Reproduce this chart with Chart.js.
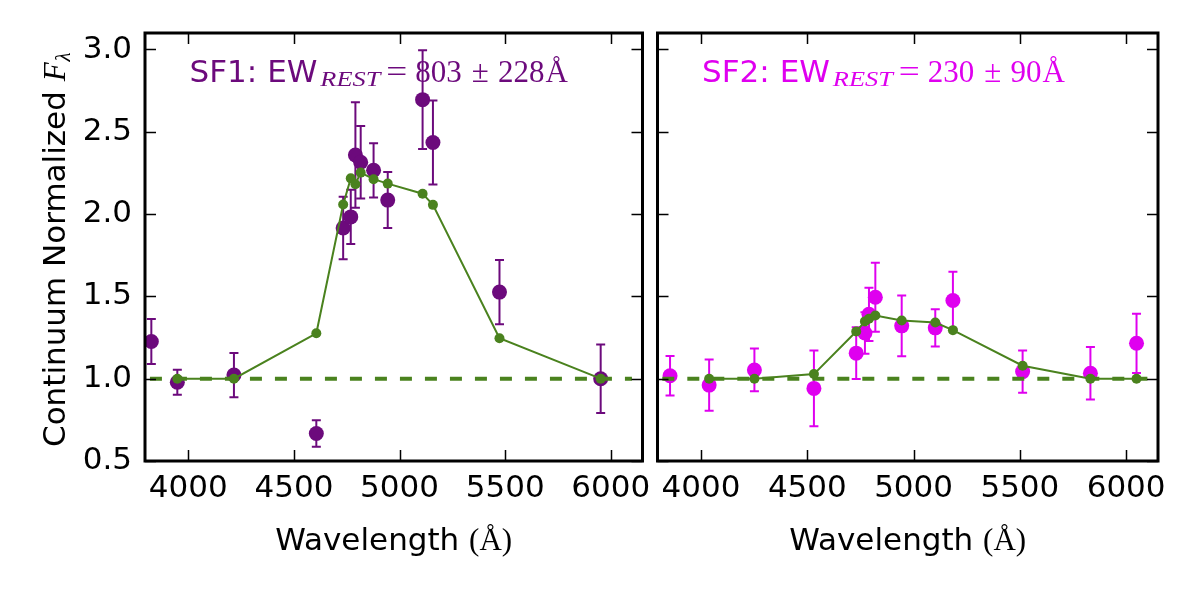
<!DOCTYPE html>
<html>
<head>
<meta charset="utf-8">
<script src="https://cdn.jsdelivr.net/npm/chart.js"></script>
<style>
  body { margin: 0; background: #fff; }
  #wrap { position: relative; width: 1200px; height: 600px; }
  #left { position: absolute; left: 0; top: 0; }
  #right { position: absolute; left: 650px; top: 0; }
</style>
</head>
<body>
<div id="wrap">
  <canvas id="left" width="650" height="600"></canvas>
  <canvas id="right" width="550" height="600"></canvas>
</div>
<script>
// SF1 measured points (wavelength, flux, error)
let sf1Wave = [3825, 3948, 4216, 4606, 4733, 4769, 4791, 4816, 4877, 4944, 5109, 5158, 5473, 5952];
let sf1Flux = [1.226, 0.978, 1.022, 0.667, 1.915, 1.983, 2.359, 2.315, 2.266, 2.085, 2.695, 2.435, 1.526, 1.0];
let sf1Err = [0.136, 0.076, 0.134, 0.08, 0.19, 0.165, 0.32, 0.22, 0.165, 0.17, 0.30, 0.255, 0.195, 0.208];
// SF1 model
let sf1ModelWave = [3948, 4216, 4606, 4733, 4769, 4791, 4816, 4877, 4944, 5109, 5158, 5473, 5952];
let sf1Model = [1.0, 1.0, 1.276, 2.058, 2.217, 2.181, 2.252, 2.212, 2.185, 2.124, 2.056, 1.246, 1.0];

// SF2 measured points
let sf2Wave = [3854, 4038, 4251, 4531, 4730, 4771, 4790, 4820, 4944, 5102, 5185, 5513, 5832, 6049];
let sf2Flux = [1.018, 0.961, 1.053, 0.941, 1.155, 1.278, 1.391, 1.495, 1.321, 1.309, 1.475, 1.043, 1.033, 1.215];
let sf2Err = [0.12, 0.155, 0.13, 0.23, 0.157, 0.126, 0.162, 0.21, 0.185, 0.113, 0.175, 0.128, 0.16, 0.18];
// SF2 model
let sf2ModelWave = [4038, 4251, 4531, 4730, 4771, 4790, 4820, 4944, 5102, 5185, 5513, 5832, 6049];
let sf2Model = [1.0, 1.0, 1.028, 1.287, 1.348, 1.364, 1.384, 1.354, 1.341, 1.295, 1.079, 1.0, 1.0];

// continuum level
let continuumWave = [3700, 6100];
let continuumFlux = [1.0, 1.0];

let xTicks = [4000, 4500, 5000, 5500, 6000];
let yTicks = [0.5, 1.0, 1.5, 2.0, 2.5, 3.0];

const purple = "#6c0a7c";
const magenta = "#df00ef";
const green = "#4a821e";
const sans = '"DejaVu Sans"';
const serif = '"Liberation Serif"';

function toPoints(xs, ys) {
    return xs.map((x, i) => ({ x: x, y: ys[i] }));
}

// draw a row of text pieces, each with its own font
function drawPieces(ctx, pieces, x, y) {
    let cx = x;
    pieces.forEach(p => {
        cx += p.gap || 0;
        ctx.font = p.font;
        let w = ctx.measureText(p.text).width;
        ctx.save();
        ctx.translate(cx, y + (p.dy || 0));
        if (p.width) {
            ctx.scale(p.width / w, 1);
            w = p.width;
        }
        ctx.fillText(p.text, 0, 0);
        ctx.restore();
        cx += w;
    });
}

function labelPieces(name, value, err) {
    return [
        { text: name + ": EW", font: "31px " + sans },
        { text: "REST", font: "italic 22px " + serif, dy: 4, width: 60, gap: 3 },
        { text: "=", font: "32px " + serif, width: 21, gap: 6 },
        { text: value, font: "31px " + serif, gap: 8 },
        { text: "\u00b1", font: "31px " + serif, gap: 10 },
        { text: err, font: "31px " + serif, gap: 9 },
        { text: "\u00c5", font: "31px " + serif, gap: 1 }
    ];
}

function noPad(s) {
    s.paddingLeft = 0;
    s.paddingRight = 0;
    s.paddingTop = 0;
    s.paddingBottom = 0;
}

function panelPlugin(opts) {
    return {
        id: "panel_" + opts.name,
        beforeDatasetsDraw(chart) {
            const ctx = chart.ctx;
            const xs = chart.scales.x;
            const ys = chart.scales.y;
            const a = chart.chartArea;
            ctx.save();
            ctx.beginPath();
            ctx.rect(a.left, a.top, a.right - a.left, a.bottom - a.top);
            ctx.clip();
            ctx.strokeStyle = opts.color;
            ctx.lineWidth = 2;
            opts.wave.forEach((w, i) => {
                const px = xs.getPixelForValue(w);
                const top = ys.getPixelForValue(opts.flux[i] + opts.err[i]);
                const bot = ys.getPixelForValue(opts.flux[i] - opts.err[i]);
                ctx.beginPath();
                ctx.moveTo(px, top);
                ctx.lineTo(px, bot);
                ctx.moveTo(px - 4.5, top);
                ctx.lineTo(px + 4.5, top);
                ctx.moveTo(px - 4.5, bot);
                ctx.lineTo(px + 4.5, bot);
                ctx.stroke();
            });
            ctx.restore();
        },
        afterDraw(chart) {
            const ctx = chart.ctx;
            const xs = chart.scales.x;
            const ys = chart.scales.y;
            const a = chart.chartArea;
            ctx.save();
            // inward ticks on all four sides
            ctx.strokeStyle = "#000";
            ctx.lineWidth = 1.5;
            ctx.beginPath();
            xTicks.forEach(v => {
                const px = Math.round(xs.getPixelForValue(v)) + 0.5;
                ctx.moveTo(px, a.bottom);
                ctx.lineTo(px, a.bottom - 11);
                ctx.moveTo(px, a.top);
                ctx.lineTo(px, a.top + 11);
            });
            yTicks.forEach(v => {
                const py = Math.round(ys.getPixelForValue(v)) + 0.5;
                ctx.moveTo(a.left, py);
                ctx.lineTo(a.left + 11, py);
                ctx.moveTo(a.right, py);
                ctx.lineTo(a.right - 11, py);
            });
            ctx.stroke();
            // frame
            ctx.lineWidth = 3;
            ctx.strokeRect(a.left, a.top, a.right - a.left, a.bottom - a.top);

            // annotation
            ctx.fillStyle = opts.color;
            ctx.textBaseline = "alphabetic";
            ctx.textAlign = "left";
            drawPieces(ctx, labelPieces(opts.name, opts.ew, opts.ewErr), a.left + 44.6, a.top + 49.4);

            // x axis title
            ctx.fillStyle = "#000";
            const xt = [
                { text: "Wavelength ", font: "31px " + sans },
                { text: "(\u00c5)", font: "31px " + serif }
            ];
            ctx.font = xt[0].font;
            let tw = ctx.measureText(xt[0].text).width;
            ctx.font = xt[1].font;
            tw += ctx.measureText(xt[1].text).width;
            drawPieces(ctx, xt, (a.left + a.right) / 2 - tw / 2, 550);

            // y axis title (left panel only)
            if (opts.yTitle) {
                ctx.save();
                ctx.translate(65, 447);
                ctx.rotate(-Math.PI / 2);
                drawPieces(ctx, [
                    { text: "Continuum Normalized ", font: "31px " + sans },
                    { text: "F", font: "italic 31px " + serif },
                    { text: "\u03bb", font: "italic 21px " + serif, dy: 5, gap: 1 }
                ], 0, 0);
                ctx.restore();
            }
            ctx.restore();
        }
    };
}

function makeChart(id, opts) {
    let ctx = document.getElementById(id).getContext("2d");
    return new Chart(ctx, {
        type: "scatter",
        data: {
            datasets: [{
                data: toPoints(opts.wave, opts.flux),
                backgroundColor: opts.color,
                borderColor: opts.color,
                pointRadius: 7.5,
                pointBorderWidth: 0,
                showLine: false,
                order: 3
            }, {
                data: toPoints(opts.modelWave, opts.model),
                backgroundColor: green,
                borderColor: green,
                borderWidth: 2,
                pointRadius: 5,
                pointBorderWidth: 0,
                showLine: true,
                order: 1
            }, {
                data: toPoints(continuumWave, continuumFlux),
                borderColor: green,
                borderWidth: 4,
                borderDash: [12, 13],
                pointRadius: 0,
                showLine: true,
                order: 2
            }]
        },
        options: {
            responsive: false,
            animation: false,
            events: [],
            layout: { padding: { top: 33, right: opts.padRight, left: 0, bottom: 0 } },
            plugins: { legend: { display: false }, tooltip: { enabled: false } },
            scales: {
                x: {
                    type: "linear",
                    min: 3795,
                    max: 6150,
                    afterBuildTicks: s => { s.ticks = xTicks.map(v => ({ value: v })); },
                    afterFit: s => { s.height = 139; noPad(s); },
                    grid: { display: false, drawTicks: false },
                    border: { display: false },
                    ticks: {
                        font: { family: "DejaVu Sans", size: 31 },
                        color: "#000",
                        padding: 9,
                        maxRotation: 0,
                        callback: v => String(v)
                    }
                },
                y: {
                    type: "linear",
                    min: 0.5,
                    max: 3.1,
                    afterBuildTicks: s => { s.ticks = yTicks.map(v => ({ value: v })); },
                    afterFit: s => { s.width = opts.yWidth; noPad(s); },
                    grid: { display: false, drawTicks: false },
                    border: { display: false },
                    ticks: {
                        display: opts.yTitle,
                        font: { family: "DejaVu Sans", size: 31 },
                        color: "#000",
                        padding: 13,
                        callback: v => v.toFixed(1)
                    }
                }
            }
        },
        plugins: [panelPlugin(opts)]
    });
}

makeChart("left", {
    name: "SF1", ew: "803", ewErr: "228", color: purple,
    wave: sf1Wave, flux: sf1Flux, err: sf1Err,
    modelWave: sf1ModelWave, model: sf1Model,
    yTitle: true, yWidth: 145, padRight: 1
});
makeChart("right", {
    name: "SF2", ew: "230", ewErr: "90", color: magenta,
    wave: sf2Wave, flux: sf2Flux, err: sf2Err,
    modelWave: sf2ModelWave, model: sf2Model,
    yTitle: false, yWidth: 6, padRight: 42
});
</script>
</body>
</html>
